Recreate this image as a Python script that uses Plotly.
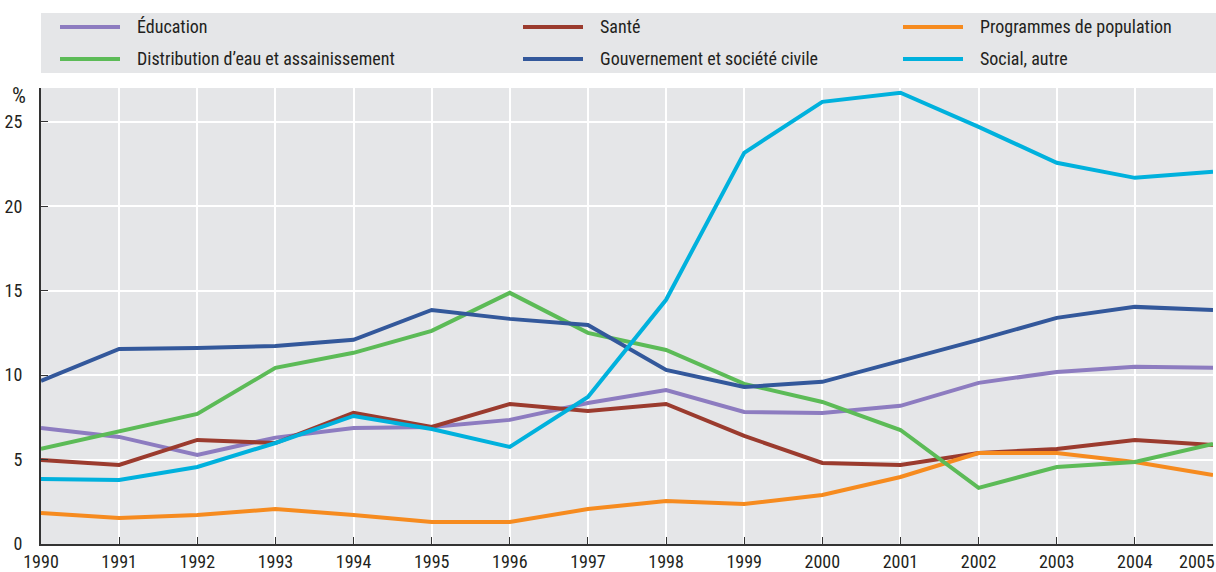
import plotly.graph_objects as go

# ── Data ────────────────────────────────────────────────────────────────
YEARS = list(range(1990, 2006))

EDUCATION   = [6.87, 6.34, 5.27, 6.30, 6.87, 6.93, 7.35, 8.35, 9.12, 7.82, 7.76, 8.18, 9.54, 10.19, 10.49, 10.43]
SANTE       = [4.98, 4.68, 6.16, 5.98, 7.76, 6.93, 8.29, 7.88, 8.29, 6.40, 4.80, 4.68, 5.39, 5.63, 6.16, 5.86]
POPULATION  = [1.84, 1.54, 1.72, 2.07, 1.72, 1.30, 1.30, 2.07, 2.55, 2.37, 2.90, 3.97, 5.39, 5.39, 4.86, 4.09]
EAU         = [5.63, 6.69, 7.70, 10.43, 11.32, 12.62, 14.87, 12.50, 11.49, 9.48, 8.41, 6.75, 3.32, 4.56, 4.86, 5.92]
GOUVERNEMENT = [9.66, 11.55, 11.61, 11.73, 12.09, 13.86, 13.33, 12.97, 10.31, 9.30, 9.60, 10.84, 12.09, 13.39, 14.04, 13.86]
SOCIAL      = [3.85, 3.79, 4.56, 5.98, 7.58, 6.81, 5.75, 8.71, 14.46, 23.16, 26.18, 26.72, 24.70, 22.57, 21.68, 22.04]

SERIES = [
    ("Éducation", EDUCATION, "#8d7cc0"),
    ("Santé", SANTE, "#9b3b2e"),
    ("Programmes de population", POPULATION, "#f68b1f"),
    ("Distribution d’eau et assainissement", EAU, "#5cbb57"),
    ("Gouvernement et société civile", GOUVERNEMENT, "#33589b"),
    ("Social, autre", SOCIAL, "#00b1dd"),
]

Y_TICKS = [0, 5, 10, 15, 20, 25]

FONT = "Liberation Sans Narrow, Arial Narrow, Roboto Condensed, sans-serif"
TEXT = "#231f20"
PANEL = "#e5e6e8"
AXIS = "#333333"

W, H = 1216, 572
ML, MR, MT, MB = 41, 3, 88, 28
PW, PH = W - ML - MR, H - MT - MB


def px_x(px):
    return (px - ML) / PW


def px_y(py):
    return (H - MB - py) / PH


# legend key positions in pixels: line start per column, row centre
LEG_X = [60, 523, 903]
LEG_Y = [27, 59]
LINE_LEN, TEXT_GAP = 60, 15

fig = go.Figure()
shapes = [dict(type="rect", xref="paper", yref="paper",
               x0=0, x1=px_x(W), y0=px_y(73), y1=px_y(13),
               fillcolor=PANEL, line_width=0, layer="below")]
annotations = []
for i, (name, vals, color) in enumerate(SERIES):
    fig.add_trace(go.Scatter(
        x=YEARS, y=vals, mode="lines", name=name,
        line=dict(color=color, width=4), hoverinfo="skip",
    ))
    col, row = i % 3, i // 3
    x0 = LEG_X[col]
    shapes.append(dict(type="line", xref="paper", yref="paper",
                       x0=px_x(x0), x1=px_x(x0 + LINE_LEN),
                       y0=px_y(LEG_Y[row]), y1=px_y(LEG_Y[row]),
                       line=dict(color=color, width=4)))
    annotations.append(dict(text=name, xref="paper", yref="paper",
                            x=px_x(x0 + LINE_LEN + TEXT_GAP), y=px_y(LEG_Y[row]),
                            xanchor="left", yanchor="middle", showarrow=False,
                            font=dict(family=FONT, size=18, color=TEXT)))

annotations.append(dict(text="%", xref="paper", yref="paper",
                        x=px_x(10), y=px_y(81), showarrow=False,
                        font=dict(family=FONT, size=22, color=TEXT)))
# last year label nudged left so it stays inside the page
annotations.append(dict(text="2005", x=2005, xref="x", yref="paper", y=0,
                        xanchor="right", yanchor="top", xshift=3, yshift=-6,
                        borderpad=0, showarrow=False,
                        font=dict(family=FONT, size=18, color=TEXT)))

fig.update_layout(
    width=W, height=H,
    margin=dict(l=ML, r=MR, t=MT, b=MB),
    paper_bgcolor="white", plot_bgcolor=PANEL,
    font=dict(family=FONT, size=18, color=TEXT),
    showlegend=False,
    shapes=shapes,
    annotations=annotations,
    xaxis=dict(
        range=[1990, 2005], tickvals=YEARS,
        ticktext=[str(y) for y in YEARS[:-1]] + [""],
        showgrid=True, gridcolor="white", gridwidth=1.5,
        showline=True, linecolor=AXIS, linewidth=2,
        ticks="inside", ticklen=7, tickcolor=AXIS,
        zeroline=False, ticklabelstandoff=0, automargin=False,
    ),
    yaxis=dict(
        range=[0, 27], tickvals=Y_TICKS,
        showgrid=True, gridcolor="white", gridwidth=1.5,
        showline=True, linecolor=AXIS, linewidth=2,
        ticks="inside", ticklen=7, tickcolor=AXIS,
        zeroline=False, ticklabelstandoff=13, automargin=False,
    ),
)

fig.write_html("out.html", config={"displayModeBar": False},
               post_script="document.body.style.margin='0';")
